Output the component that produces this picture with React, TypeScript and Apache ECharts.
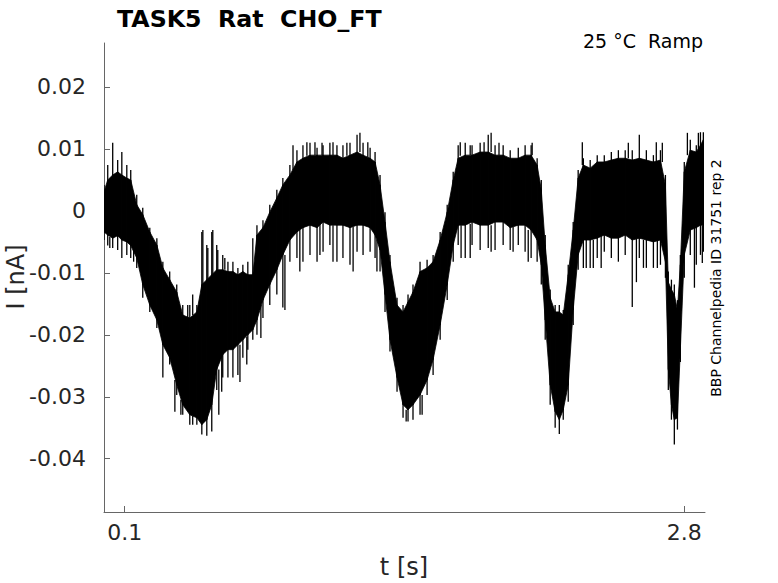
import React, { useEffect, useRef } from "react";
import * as echarts from "echarts";

// time samples (s)
const T = [
  0.0, 0.018, 0.042, 0.066, 0.086, 0.11, 0.129, 0.158, 0.187, 0.221, 0.255, 0.284, 0.317, 0.351, 0.38, 0.414, 0.448,
  0.472, 0.496, 0.52, 0.544, 0.573, 0.598, 0.622, 0.646, 0.67, 0.694, 0.718, 0.738, 0.767, 0.8, 0.834, 0.863, 0.897,
  0.931, 0.96, 0.994, 1.028, 1.057, 1.09, 1.124, 1.153, 1.187, 1.221, 1.25, 1.284, 1.308, 1.332, 1.356, 1.38, 1.414,
  1.443, 1.467, 1.491, 1.525, 1.559, 1.588, 1.622, 1.656, 1.685, 1.709, 1.743, 1.776, 1.815, 1.854, 1.887, 1.926,
  1.96, 1.999, 2.032, 2.061, 2.09, 2.11, 2.129, 2.153, 2.177, 2.197, 2.216, 2.24, 2.264, 2.288, 2.313, 2.346, 2.38,
  2.414, 2.448, 2.482, 2.515, 2.549, 2.583, 2.617, 2.651, 2.685, 2.709, 2.723, 2.738, 2.752, 2.767, 2.781, 2.8, 2.829,
  2.858, 2.878, 2.892,
];
// spike tips above the band (nA)
const OUT_HI = [
  0.0042, 0.0074, 0.011, 0.0082, 0.0095, 0.0074, 0.0066, 0.0026, 0.0005, -0.0027, -0.0044, -0.0082, -0.0098, -0.0119,
  -0.0152, -0.0152, -0.0152, -0.0034, -0.0055, -0.0034, -0.0055, -0.0071, -0.0082, -0.0082, -0.0092, -0.0087, -0.0082,
  -0.0044, -0.0023, -0.0015, 0.001, 0.0034, 0.0053, 0.0074, 0.0098, 0.0106, 0.011, 0.0102, 0.0106, 0.011, 0.0106,
  0.0106, 0.011, 0.0123, 0.011, 0.0102, 0.0095, 0.0058, -0.0002, -0.0071, -0.014, -0.0152, -0.0135, -0.0119, -0.0082,
  -0.0079, -0.0071, -0.0034, 0.001, 0.0063, 0.0106, 0.011, 0.0106, 0.011, 0.0123, 0.0106, 0.0106, 0.0098, 0.0102,
  0.0106, 0.0106, 0.0085, 0.005, -0.0039, -0.0127, -0.0152, -0.0152, -0.016, -0.0087, -0.0018, 0.0066, 0.0085, 0.0082,
  0.009, 0.009, 0.0095, 0.0098, 0.0098, 0.0098, 0.0123, 0.0098, 0.009, 0.0098, 0.0058, -0.0098, -0.0111, -0.0119,
  -0.0144, -0.0071, 0.0079, 0.0115, 0.0106, 0.0127, 0.0127,
];
// upper edge of the dense band (nA)
const CORE_HI = [
  0.0031, 0.005, 0.0058, 0.0063, 0.0058, 0.0053, 0.005, 0.001, -0.0006, -0.0034, -0.0055, -0.0092, -0.0111, -0.0131,
  -0.0168, -0.0173, -0.0163, -0.0119, -0.0111, -0.0103, -0.0095, -0.0095, -0.0098, -0.0098, -0.0103, -0.0098, -0.0103,
  -0.0103, -0.0039, -0.0027, -0.0002, 0.0021, 0.0042, 0.0058, 0.0079, 0.0085, 0.009, 0.009, 0.009, 0.009, 0.009,
  0.0085, 0.009, 0.0095, 0.009, 0.0085, 0.0079, 0.0042, -0.0018, -0.0082, -0.0152, -0.0163, -0.0147, -0.0131, -0.0098,
  -0.0092, -0.0082, -0.0047, -0.0002, 0.005, 0.0085, 0.009, 0.009, 0.0095, 0.0095, 0.009, 0.009, 0.0085, 0.0085,
  0.009, 0.009, 0.0074, 0.0034, -0.0055, -0.014, -0.0163, -0.0163, -0.0168, -0.0103, -0.0031, 0.0053, 0.0074, 0.0069,
  0.0079, 0.0079, 0.0082, 0.0085, 0.0085, 0.0082, 0.0085, 0.0082, 0.0079, 0.0082, 0.0042, -0.0115, -0.0127, -0.0135,
  -0.016, -0.0087, 0.0063, 0.0098, 0.0095, 0.0106, 0.0115,
];
// lower edge of the dense band (nA)
const CORE_LO = [
  -0.0034, -0.0039, -0.0044, -0.004, -0.0047, -0.005, -0.0056, -0.0076, -0.0119, -0.0152, -0.0176, -0.0216, -0.0237,
  -0.0281, -0.0313, -0.0329, -0.0334, -0.0345, -0.0337, -0.0313, -0.0256, -0.0232, -0.0224, -0.0224, -0.0216, -0.0208,
  -0.02, -0.0192, -0.0176, -0.0144, -0.0119, -0.0095, -0.0071, -0.0047, -0.0034, -0.0027, -0.0023, -0.0027, -0.0018,
  -0.0023, -0.0023, -0.0023, -0.0027, -0.0023, -0.0023, -0.0027, -0.0039, -0.0063, -0.0135, -0.0208, -0.0269, -0.0313,
  -0.0321, -0.0313, -0.0297, -0.0273, -0.024, -0.0184, -0.0119, -0.0055, -0.0023, -0.0023, -0.0018, -0.0023, -0.0023,
  -0.0018, -0.0018, -0.0027, -0.0023, -0.0023, -0.0031, -0.0047, -0.0087, -0.0176, -0.0281, -0.0324, -0.0337, -0.0321,
  -0.0281, -0.016, -0.0071, -0.0047, -0.0047, -0.0044, -0.0039, -0.0044, -0.0044, -0.0039, -0.0047, -0.0044, -0.0047,
  -0.005, -0.0047, -0.0082, -0.0256, -0.0313, -0.0337, -0.0334, -0.0224, -0.0071, -0.0031, -0.0027, -0.0023, -0.0023,
];
// spike tips below the band (nA)
const OUT_LO = [
  -0.0047, -0.0056, -0.006, -0.0063, -0.0076, -0.0071, -0.0076, -0.0092, -0.014, -0.0163, -0.0189, -0.0269, -0.0248,
  -0.0297, -0.0329, -0.0345, -0.0345, -0.0361, -0.0363, -0.0356, -0.0289, -0.0269, -0.0269, -0.0269, -0.0265, -0.0237,
  -0.0224, -0.0208, -0.02, -0.0173, -0.0152, -0.0135, -0.0156, -0.0082, -0.0076, -0.0082, -0.0071, -0.0082, -0.0066,
  -0.0055, -0.0082, -0.0076, -0.0087, -0.0066, -0.0071, -0.0066, -0.0076, -0.0098, -0.0163, -0.0227, -0.0292, -0.0334,
  -0.034, -0.0337, -0.0329, -0.0297, -0.0265, -0.0208, -0.0144, -0.0082, -0.0055, -0.0076, -0.0055, -0.0063, -0.006,
  -0.0063, -0.0055, -0.0063, -0.0055, -0.0066, -0.0076, -0.0082, -0.0119, -0.0208, -0.0313, -0.035, -0.036, -0.0337,
  -0.0308, -0.0184, -0.0095, -0.0092, -0.0092, -0.0076, -0.0066, -0.0076, -0.0082, -0.0071, -0.0155, -0.0076, -0.0092,
  -0.0092, -0.0087, -0.0108, -0.0289, -0.0337, -0.0377, -0.0353, -0.0244, -0.0108, -0.0071, -0.0087, -0.0071, -0.0066,
];

// extra isolated spikes: time (s), tip value (nA), value where the spike leaves the band (nA)
const SPIKE_T = [
  0.404, 0.428, 0.477, 0.501, 0.525, 0.549, 0.583, 0.912, 0.979, 1.018, 1.052, 1.105, 1.172, 1.235, 1.273, 1.719,
  1.767, 1.834, 1.868, 1.906, 2.066, 2.308, 2.53, 2.665, 2.694, 2.815, 2.868,
  0.028, 0.143, 0.342, 0.371, 0.428, 0.554, 0.568, 0.656, 0.689, 0.757, 0.873, 0.945, 1.042, 1.105, 1.202, 1.317,
  1.458, 1.535, 1.723, 1.767, 1.868, 1.974, 2.047, 2.327, 2.361, 2.399, 2.569, 2.603, 2.67, 2.849, 2.887,
];
const SPIKE_TIP = [
  -0.0152, -0.0135, -0.0031, -0.006, -0.0031, -0.0063, -0.0076, 0.0106, 0.0111, 0.0111, 0.011, 0.0111, 0.011, 0.0126,
  0.0111, 0.0111, 0.0106, 0.0111, 0.0126, 0.011, 0.011, 0.0111, 0.011, 0.0111, 0.011, 0.0126, 0.0126,
  -0.006, -0.0082, -0.0324, -0.0329, -0.0345, -0.0329, -0.0292, -0.0276, -0.0248, -0.0205, -0.016, -0.0098, -0.0071,
  -0.0082, -0.0098, -0.0098, -0.034, -0.0329, -0.0076, -0.0076, -0.0066, -0.0066, -0.0082, -0.0092, -0.0092, -0.0092,
  -0.0115, -0.0092, -0.0092, -0.0124, -0.0084,
];
const SPIKE_BASE = [
  -0.0173, -0.0168, -0.0119, -0.0111, -0.0103, -0.0095, -0.0095, 0.0066, 0.0089, 0.009, 0.009, 0.009, 0.0089, 0.0095,
  0.0087, 0.0089, 0.009, 0.0095, 0.0095, 0.009, 0.009, 0.0074, 0.0085, 0.0079, 0.0079, 0.009, 0.0098,
  -0.0042, -0.0063, -0.0273, -0.0305, -0.0331, -0.0256, -0.0232, -0.0216, -0.0203, -0.0152, -0.0071, -0.0031, -0.0021,
  -0.0023, -0.0026, -0.0047, -0.0321, -0.0297, -0.0023, -0.0021, -0.0023, -0.0026, -0.0031, -0.0047, -0.0047, -0.004,
  -0.0044, -0.0047, -0.0047, -0.0027, -0.0023,
];

const Y_TICKS = [-0.04, -0.03, -0.02, -0.01, 0, 0.01, 0.02];
const X_TICKS = [0.1, 2.8];

const TITLE = "TASK5  Rat  CHO_FT";
const SUBTITLE = "25 °C  Ramp";
const SIDE_NOTE = "BBP Channelpedia ID 31751 rep 2";
const X_NAME = "t [s]";
const Y_NAME = "I [nA]";

const FONT = "DejaVu Sans";
const TXT = "#262626";
const AX = "#666666";

export default function App() {
  const ref = useRef<HTMLDivElement>(null);
  useEffect(() => {
    if (!ref.current) return;
    const chart = echarts.init(ref.current, undefined, { renderer: "svg" });
    const n = T.length;
    const coreData = T.map((t, i) => [t, CORE_HI[i], CORE_LO[i]]);
    const spikeData = T.map((t, i) => [t, OUT_HI[i], OUT_LO[i]]);
    const extraData = SPIKE_T.map((t, i) => [t, SPIKE_TIP[i], SPIKE_BASE[i]]);
    const fmtY = (v: number) => (Math.abs(v) < 1e-9 ? "0" : v.toFixed(2));
    const vline = (_p: any, api: any) => {
      const t = api.value(0);
      const p1 = api.coord([t, api.value(1)]);
      const p2 = api.coord([t, api.value(2)]);
      return {
        type: "line",
        shape: { x1: p1[0], y1: p1[1], x2: p2[0], y2: p2[1] },
        style: { stroke: "#000", lineWidth: 1.3 },
      };
    };
    chart.setOption({
      animation: false,
      grid: { left: 104, top: 43, width: 601, height: 469, containLabel: false },
      xAxis: {
        type: "value",
        min: 0,
        max: 2.9,
        splitLine: { show: false },
        axisLine: { show: true, onZero: false, lineStyle: { color: AX, width: 1 } },
        axisTick: { show: true, inside: true, length: 6, lineStyle: { color: AX }, customValues: X_TICKS },
        axisLabel: {
          show: true,
          customValues: X_TICKS,
          formatter: (v: number) => v.toFixed(1),
          fontFamily: FONT,
          fontSize: 22,
          color: TXT,
          margin: 9,
        },
      },
      yAxis: {
        type: "value",
        min: -0.0486,
        max: 0.0271,
        splitLine: { show: false },
        axisLine: { show: true, onZero: false, lineStyle: { color: AX, width: 1 } },
        axisTick: { show: true, inside: true, length: 6, lineStyle: { color: AX }, customValues: Y_TICKS },
        axisLabel: {
          show: true,
          customValues: Y_TICKS,
          formatter: fmtY,
          fontFamily: FONT,
          fontSize: 22,
          color: TXT,
          margin: 18,
        },
      },
      series: [
        {
          type: "custom",
          data: coreData,
          clip: true,
          renderItem: (params: any, api: any) => {
            const i = params.dataIndex;
            if (i >= n - 1) return null;
            const a = api.coord([T[i], CORE_HI[i]]);
            const b = api.coord([T[i + 1], CORE_HI[i + 1]]);
            const c = api.coord([T[i + 1], CORE_LO[i + 1]]);
            const d = api.coord([T[i], CORE_LO[i]]);
            return {
              type: "polygon",
              shape: { points: [a, b, c, d] },
              style: { fill: "#000", stroke: "#000", lineWidth: 0.8 },
            };
          },
        },
        { type: "custom", data: spikeData, clip: true, renderItem: vline },
        { type: "custom", data: extraData, clip: true, renderItem: vline },
      ],
      graphic: [
        {
          type: "text",
          x: 117,
          y: 19,
          style: { text: TITLE, font: `bold 23.7px "${FONT}"`, fill: "#000", textAlign: "left", textVerticalAlign: "middle" },
        },
        {
          type: "text",
          x: 703,
          y: 41,
          style: { text: SUBTITLE, font: `19px "${FONT}"`, fill: "#000", textAlign: "right", textVerticalAlign: "middle" },
        },
        {
          type: "text",
          x: 716,
          y: 278,
          rotation: Math.PI / 2,
          style: { text: SIDE_NOTE, font: `14px "${FONT}"`, fill: "#000", textAlign: "center", textVerticalAlign: "middle" },
        },
        {
          type: "text",
          x: 16,
          y: 277,
          rotation: Math.PI / 2,
          style: { text: Y_NAME, font: `24px "${FONT}"`, fill: TXT, textAlign: "center", textVerticalAlign: "middle" },
        },
        {
          type: "text",
          x: 404,
          y: 567,
          style: { text: X_NAME, font: `24px "${FONT}"`, fill: TXT, textAlign: "center", textVerticalAlign: "middle" },
        },
      ],
    });
    return () => chart.dispose();
  }, []);
  return <div ref={ref} style={{ position: "absolute", left: 0, top: 0, width: 778, height: 583, background: "#fff" }} />;
}
